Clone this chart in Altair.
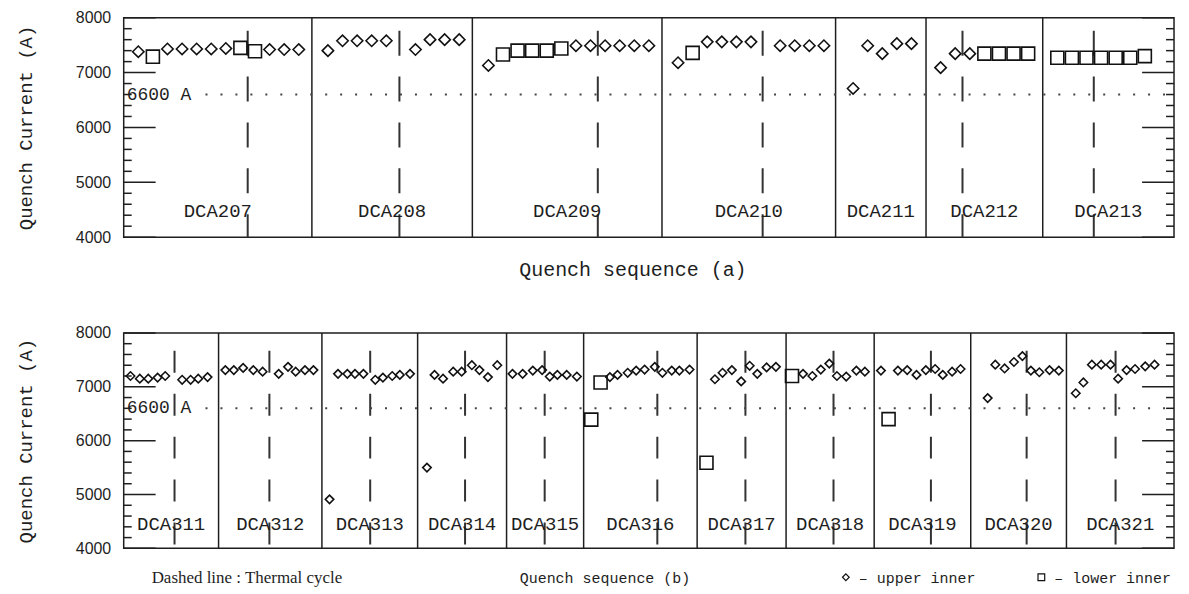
import altair as alt
import pandas as pd

# ---------------- data ----------------
Y_TICKS_MAJOR = [4000, 5000, 6000, 7000, 8000]
Y_TICKS_MINOR = [v for v in range(4200, 8000, 200) if v % 1000 != 0]
LIMIT_A = [6600]

# top panel (a)
TOP_MAGNETS = ["DCA207", "DCA208", "DCA209", "DCA210", "DCA211", "DCA212", "DCA213"]
TOP_BOUNDS = [0, 12.9, 23.9, 36.9, 48.8, 55.0, 63.0, 72.0]
TOP_CYCLES = [8.5, 18.9, 32.5, 43.8, 57.5, 66.5]

DCA207_SEQ = [1, 2, 3, 4, 5, 6, 7, 8, 9, 10, 11, 12]
DCA207_AMP = [7380, 7290, 7430, 7430, 7430, 7430, 7440, 7450, 7390, 7420, 7420, 7420]
DCA207_COIL = "DSDDDDDSSDDD"
DCA208_SEQ = [14, 15, 16, 17, 18, 20, 21, 22, 23]
DCA208_AMP = [7400, 7580, 7580, 7580, 7580, 7420, 7600, 7600, 7600]
DCA208_COIL = "DDDDDDDDD"
DCA209_SEQ = [25, 26, 27, 28, 29, 30, 31, 32, 33, 34, 35, 36]
DCA209_AMP = [7130, 7330, 7400, 7400, 7400, 7440, 7490, 7490, 7490, 7490, 7490, 7490]
DCA209_COIL = "DSSSSSDDDDDD"
DCA210_SEQ = [38, 39, 40, 41, 42, 43, 45, 46, 47, 48]
DCA210_AMP = [7180, 7360, 7560, 7560, 7560, 7560, 7490, 7490, 7490, 7490]
DCA210_COIL = "DSDDDDDDDD"
DCA211_SEQ = [50, 51, 52, 53, 54]
DCA211_AMP = [6710, 7490, 7345, 7527, 7527]
DCA211_COIL = "DDDDD"
DCA212_SEQ = [56, 57, 58, 59, 60, 61, 62]
DCA212_AMP = [7090, 7345, 7345, 7345, 7345, 7345, 7345]
DCA212_COIL = "DDDSSSS"
DCA213_SEQ = [64, 65, 66, 67, 68, 69, 70]
DCA213_AMP = [7270, 7270, 7270, 7270, 7270, 7270, 7300]
DCA213_COIL = "SSSSSSS"

# bottom panel (b)
BOT_MAGNETS = ["DCA311", "DCA312", "DCA313", "DCA314", "DCA315", "DCA316",
               "DCA317", "DCA318", "DCA319", "DCA320", "DCA321"]
BOT_BOUNDS = [0, 11.2, 23.4, 34.7, 45.2, 54.3, 67.7, 78.2, 88.6, 100.0, 111.3, 124.0]
BOT_CYCLES = [6.0, 17.2, 29.1, 40.3, 49.7, 63.0, 73.4, 83.8, 95.3, 106.6, 117.1]

DCA311_SEQ = [0.8, 1.9, 2.9, 4.0, 4.9, 6.9, 7.9, 8.8, 9.9]
DCA311_AMP = [7200, 7150, 7150, 7170, 7200, 7130, 7130, 7150, 7180]
DCA311_COIL = "DDDDDDDDD"
DCA312_SEQ = [12.0, 13.0, 14.1, 15.3, 16.4, 18.3, 19.4, 20.3, 21.4, 22.4]
DCA312_AMP = [7310, 7310, 7350, 7310, 7280, 7240, 7370, 7280, 7310, 7310]
DCA312_COIL = "DDDDDDDDDD"
DCA313_SEQ = [24.3, 25.3, 26.4, 27.3, 28.3, 29.7, 30.6, 31.7, 32.6, 33.8]
DCA313_AMP = [4910, 7240, 7240, 7240, 7240, 7130, 7170, 7200, 7220, 7240]
DCA313_COIL = "DDDDDDDDDD"
DCA314_SEQ = [35.8, 36.7, 37.7, 38.9, 39.9, 41.1, 42.0, 43.0, 44.1]
DCA314_AMP = [5500, 7220, 7150, 7280, 7280, 7400, 7310, 7180, 7400]
DCA314_COIL = "DDDDDDDDD"
DCA315_SEQ = [45.9, 47.1, 48.3, 49.4, 50.3, 51.2, 52.3, 53.5]
DCA315_AMP = [7240, 7240, 7300, 7310, 7190, 7220, 7220, 7190]
DCA315_COIL = "DDDDDDDD"
DCA316_SEQ = [55.2, 56.3, 57.4, 58.3, 59.5, 60.5, 61.5, 62.7, 63.6, 64.7, 65.6, 66.8]
DCA316_AMP = [6390, 7080, 7180, 7220, 7260, 7300, 7320, 7370, 7260, 7300, 7300, 7320]
DCA316_COIL = "SSDDDDDDDDDD"
DCA317_SEQ = [68.8, 69.8, 70.7, 71.8, 72.9, 73.9, 74.8, 75.9, 77.0]
DCA317_AMP = [5590, 7140, 7260, 7310, 7100, 7390, 7240, 7360, 7370]
DCA317_COIL = "SDDDDDDDD"
DCA318_SEQ = [78.9, 80.2, 81.3, 82.3, 83.3, 84.2, 85.3, 86.5, 87.5]
DCA318_AMP = [7200, 7240, 7200, 7320, 7430, 7200, 7190, 7300, 7280]
DCA318_COIL = "SDDDDDDDD"
DCA319_SEQ = [89.4, 90.3, 91.4, 92.5, 93.6, 94.7, 95.8, 96.7, 97.8, 98.8]
DCA319_AMP = [7300, 6400, 7300, 7310, 7220, 7310, 7330, 7220, 7280, 7330]
DCA319_COIL = "DSDDDDDDDD"
DCA320_SEQ = [102.0, 102.9, 104.0, 105.1, 106.1, 107.1, 108.1, 109.3, 110.4]
DCA320_AMP = [6790, 7410, 7340, 7460, 7570, 7300, 7270, 7310, 7300]
DCA320_COIL = "DDDDDDDDD"
DCA321_SEQ = [112.4, 113.3, 114.3, 115.4, 116.5, 117.4, 118.4, 119.4, 120.6, 121.7]
DCA321_AMP = [6880, 7080, 7410, 7410, 7410, 7150, 7310, 7330, 7380, 7410]
DCA321_COIL = "DDDDDDDDDD"

TOP_SERIES = [(DCA207_SEQ, DCA207_AMP, DCA207_COIL), (DCA208_SEQ, DCA208_AMP, DCA208_COIL),
              (DCA209_SEQ, DCA209_AMP, DCA209_COIL), (DCA210_SEQ, DCA210_AMP, DCA210_COIL),
              (DCA211_SEQ, DCA211_AMP, DCA211_COIL), (DCA212_SEQ, DCA212_AMP, DCA212_COIL),
              (DCA213_SEQ, DCA213_AMP, DCA213_COIL)]
BOT_SERIES = [(DCA311_SEQ, DCA311_AMP, DCA311_COIL), (DCA312_SEQ, DCA312_AMP, DCA312_COIL),
              (DCA313_SEQ, DCA313_AMP, DCA313_COIL), (DCA314_SEQ, DCA314_AMP, DCA314_COIL),
              (DCA315_SEQ, DCA315_AMP, DCA315_COIL), (DCA316_SEQ, DCA316_AMP, DCA316_COIL),
              (DCA317_SEQ, DCA317_AMP, DCA317_COIL), (DCA318_SEQ, DCA318_AMP, DCA318_COIL),
              (DCA319_SEQ, DCA319_AMP, DCA319_COIL), (DCA320_SEQ, DCA320_AMP, DCA320_COIL),
              (DCA321_SEQ, DCA321_AMP, DCA321_COIL)]

INK = "#1e1e1e"
MONO = "Liberation Mono"
SANS = "Liberation Sans"
SERIF = "Liberation Serif"
W = 1053


def points_frame(series):
    rows = []
    for seqs, amps, coils in series:
        for s, a, c in zip(seqs, amps, coils):
            rows.append({"x": s, "y": a, "coil": "upper inner" if c == "D" else "lower inner"})
    return pd.DataFrame(rows)


def panel(series, magnets, bounds, cycles, height, dash, dash_off,
          dsize, ssize, xtitle, xtitle_size, xtitle_x, label_y, extra=None):
    xmax = bounds[-1]
    xs = alt.Scale(domain=[0, xmax], nice=False, zero=False)
    ys = alt.Scale(domain=[4000, 8000], nice=False, zero=False)
    xaxis = alt.Axis(labels=False, ticks=False, domain=False, grid=False, title=xtitle,
                     titleFont=MONO, titleFontSize=xtitle_size, titleFontWeight="normal",
                     titleColor=INK, titlePadding=22, titleX=xtitle_x)
    yaxis = alt.Axis(values=Y_TICKS_MAJOR, format="d", ticks=False, domain=False, grid=False,
                     labelFont=SANS, labelFontSize=16, labelColor=INK, labelPadding=13,
                     title="Quench Current (A)", titleFont=MONO, titleFontSize=19,
                     titleFontWeight="normal", titleColor=INK, titlePadding=40)
    X = lambda: alt.X("x:Q", scale=xs, axis=xaxis)
    Y = lambda: alt.Y("y:Q", scale=ys, axis=yaxis)

    pts = points_frame(series)
    centers = [(bounds[i] + bounds[i + 1]) / 2 for i in range(len(magnets))]
    lab = pd.DataFrame({"x": centers, "y": [label_y] * len(magnets), "t": magnets})

    layers = []
    layers.append(alt.Chart(pd.DataFrame({"x": bounds[1:-1]})).mark_rule(
        color=INK, strokeWidth=1.5).encode(x=X(), y=alt.value(0), y2=alt.value(height)))
    layers.append(alt.Chart(pd.DataFrame({"x": cycles})).mark_rule(
        color="#333", strokeWidth=2, strokeDash=dash, strokeDashOffset=dash_off).encode(
        x=X(), y=alt.value(0), y2=alt.value(height)))
    layers.append(alt.Chart(pd.DataFrame({"y": LIMIT_A})).mark_rule(
        color="#444", strokeWidth=2, strokeDash=[2, 13]).encode(
        y=Y(), x=alt.value(82), x2=alt.value(W)))
    layers.append(alt.Chart(pd.DataFrame({"y": LIMIT_A, "t": ["6600 A"]})).mark_text(
        font=MONO, fontSize=18, color=INK, align="left", baseline="middle", dx=3).encode(
        y=Y(), x=alt.value(0), text="t:N"))
    # inward axis ticks on both sides
    for vals, ln in ((Y_TICKS_MAJOR, 32), (Y_TICKS_MINOR, 8)):
        d = pd.DataFrame({"y": vals})
        layers.append(alt.Chart(d).mark_tick(color=INK, thickness=1.5, size=ln, opacity=1).encode(
            y=Y(), x=alt.value(ln / 2)))
        layers.append(alt.Chart(d).mark_tick(color=INK, thickness=1.5, size=ln, opacity=1).encode(
            y=Y(), x=alt.value(W - ln / 2)))
    layers.append(alt.Chart(lab).mark_text(
        font=MONO, fontSize=19, color=INK, baseline="middle").encode(
        x=X(), y=Y(), text="t:N"))
    layers.append(alt.Chart(pts).transform_filter(alt.datum.coil == "upper inner").mark_point(
        shape="diamond", filled=False, size=dsize, strokeWidth=1.6, color="#111", opacity=1).encode(
        x=X(), y=Y()))
    layers.append(alt.Chart(pts).transform_filter(alt.datum.coil == "lower inner").mark_point(
        shape="square", filled=False, size=ssize, strokeWidth=1.6, color="#111", opacity=1).encode(
        x=X(), y=Y()))
    if extra:
        layers.extend(extra)
    return alt.layer(*layers).properties(width=W, height=height)


BH = 216
note = alt.Chart(pd.DataFrame({"t": ["Dashed line : Thermal cycle"]})).mark_text(
    font=SERIF, fontSize=17, color=INK, align="left", baseline="middle").encode(
    x=alt.value(28), y=alt.value(BH + 30), text="t:N")
leg_sym = alt.Chart(pd.DataFrame({"s": ["diamond", "square"], "px": [724, 920]})).mark_point(
    filled=False, size=45, strokeWidth=1.2, color="#111", opacity=1).encode(
    x=alt.X("px:Q", scale=None), y=alt.value(BH + 29),
    shape=alt.Shape("s:N", scale=None, legend=None))
leg_txt = alt.Chart(pd.DataFrame({"t": ["– upper inner", "– lower inner"], "px": [737, 933]})).mark_text(
    font=MONO, fontSize=15, color=INK, align="left", baseline="middle").encode(
    x=alt.X("px:Q", scale=None), y=alt.value(BH + 30), text="t:N")

top = panel(TOP_SERIES, TOP_MAGNETS, TOP_BOUNDS, TOP_CYCLES, 220, [25, 21], 33,
            130, 170, "Quench sequence (a)", 20, 510, 4480)
bottom = panel(BOT_SERIES, BOT_MAGNETS, BOT_BOUNDS, BOT_CYCLES, BH, [22, 21], 25,
               72, 170, "Quench sequence (b)", 15, 482, 4460, extra=[note, leg_sym, leg_txt])

chart = alt.vconcat(top, bottom, spacing=44).resolve_scale(
    x="independent", y="independent").configure_view(
    stroke=INK, strokeWidth=1.5).properties(
    padding={"left": 7, "top": 0, "right": 5, "bottom": 5}, background="white")

chart.save("out.html", embed_options={"renderer": "svg", "actions": False})
